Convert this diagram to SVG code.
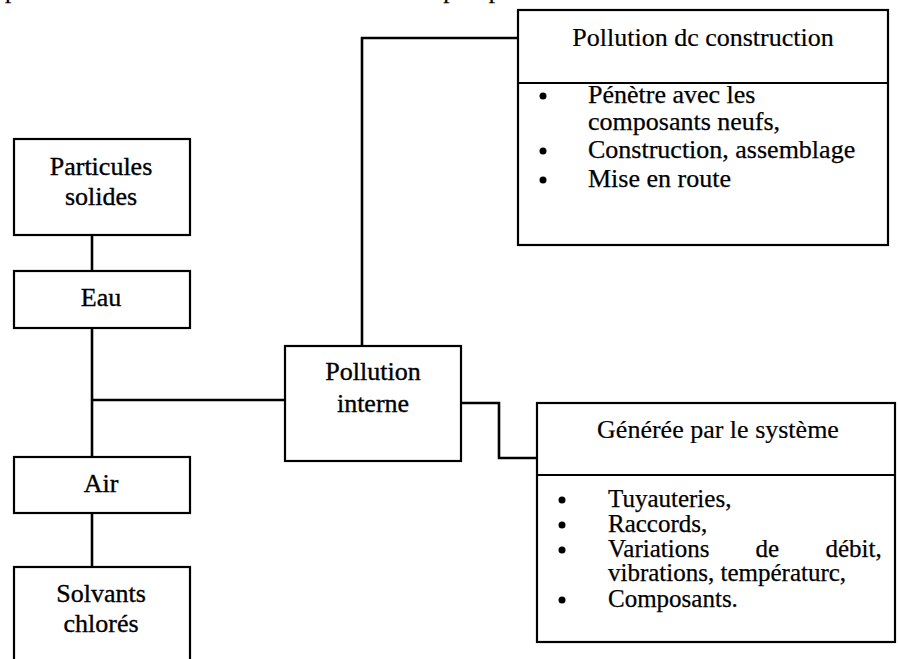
<svg xmlns="http://www.w3.org/2000/svg" width="898" height="659" viewBox="0 0 898 659">
  <style>
    .box { fill: #fff; stroke: #000; stroke-width: 2.2; }
    .sep { stroke: #000; stroke-width: 2.2; }
    .wire { fill: none; stroke: #000; stroke-width: 2.6; }
    text { font-family: 'Liberation Serif', 'DejaVu Serif', 'Times New Roman', serif; fill: #000; }
    .lbl { font-size: 26px; text-anchor: middle; stroke: #000; stroke-width: 0.35; }
    .item { font-size: 25px; stroke: #000; stroke-width: 0.25; }
    .big { font-size: 26px; }
    .dot { fill: #000; }
  </style>

  <!-- running text of the page, cut by the top edge -->
  <text class="item" x="5" y="-2">p</text>
  <text class="item" x="172" y="-2" textLength="530" lengthAdjust="spacing">ue ou au niveau de propreté du fluide.</text>

  <!-- connectors -->
  <g id="connectors">
    <line class="wire" x1="92" y1="235" x2="92" y2="271"/>
    <line class="wire" x1="92" y1="328" x2="92" y2="457"/>
    <line class="wire" x1="92" y1="513" x2="92" y2="567"/>
    <line class="wire" x1="92" y1="400" x2="285" y2="400"/>
    <polyline class="wire" points="362,346 362,38 518,38"/>
    <polyline class="wire" points="461,403 499,403 499,458 537,458"/>
  </g>

  <g id="particules">
    <rect class="box" x="14" y="139" width="176" height="96"/>
    <text class="lbl" x="101" y="175">Particules</text>
    <text class="lbl" x="101" y="205">solides</text>
  </g>

  <g id="eau">
    <rect class="box" x="14" y="271" width="176" height="57"/>
    <text class="lbl" x="101" y="306">Eau</text>
  </g>

  <g id="air">
    <rect class="box" x="14" y="457" width="176" height="56"/>
    <text class="lbl" x="101" y="492">Air</text>
  </g>

  <g id="solvants">
    <rect class="box" x="14" y="567" width="176" height="110"/>
    <text class="lbl" x="101" y="602">Solvants</text>
    <text class="lbl" x="101" y="632">chlorés</text>
  </g>

  <g id="pollution-interne">
    <rect class="box" x="285" y="346" width="176" height="115"/>
    <text class="lbl" x="373" y="380">Pollution</text>
    <text class="lbl" x="373" y="412">interne</text>
  </g>

  <g id="pollution-construction">
    <rect class="box" x="518" y="10" width="370" height="235"/>
    <line class="sep" x1="518" y1="83" x2="888" y2="83"/>
    <text class="lbl" x="703" y="46" style="stroke-width:0.2">Pollution dc construction</text>
    <circle class="dot" cx="543" cy="96" r="3.5"/>
    <text class="item big" x="588" y="103">Pénètre avec les</text>
    <text class="item big" x="588" y="130">composants neufs,</text>
    <circle class="dot" cx="543" cy="151" r="3.5"/>
    <text class="item big" x="588" y="158">Construction, assemblage</text>
    <circle class="dot" cx="543" cy="180" r="3.5"/>
    <text class="item big" x="588" y="187">Mise en route</text>
  </g>

  <g id="generee-systeme">
    <rect class="box" x="537" y="403" width="358" height="239"/>
    <line class="sep" x1="537" y1="475" x2="895" y2="475"/>
    <text class="lbl" x="718" y="438" style="stroke-width:0.2">Générée par le système</text>
    <circle class="dot" cx="562" cy="500" r="3.5"/>
    <text class="item" x="608" y="507">Tuyauteries,</text>
    <circle class="dot" cx="562" cy="525" r="3.5"/>
    <text class="item" x="608" y="532">Raccords,</text>
    <circle class="dot" cx="562" cy="550" r="3.5"/>
    <!-- justified line: wide word gaps -->
    <text class="item" x="608" y="557" word-spacing="40">Variations de débit,</text>
    <text class="item" x="608" y="581">vibrations, températurc,</text>
    <circle class="dot" cx="562" cy="600" r="3.5"/>
    <text class="item" x="608" y="607">Composants.</text>
  </g>
</svg>
